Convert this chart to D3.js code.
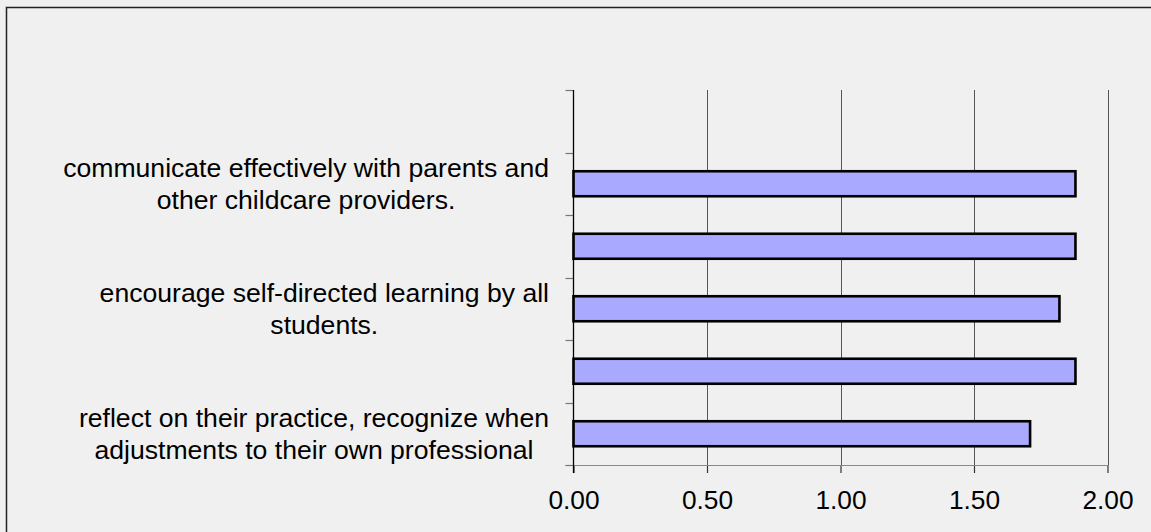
<!DOCTYPE html>
<html>
<head>
<meta charset="utf-8">
<script src="https://cdn.jsdelivr.net/npm/d3@7"></script>
<style>
html,body{margin:0;padding:0;background:#f0f0f0;}
svg{display:block;}
text{font-family:"Liberation Sans",Arial,sans-serif;fill:#000;}
</style>
</head>
<body>
<svg id="chart" width="1151" height="532"></svg>
<script>
// Categories listed top to bottom; hidden (skipped) labels are empty
const categories = ["c1", "c2", "c3", "c4", "c5", "c6"];
const categoryLabels = [
  [],
  ["communicate effectively with parents and", "other childcare providers."],
  [],
  ["encourage self-directed learning by all", "students."],
  [],
  ["reflect on their practice, recognize when", "adjustments to their own professional"]
];
const values = [null, 1.88, 1.88, 1.82, 1.88, 1.71];
const xTicks = [0, 0.5, 1.0, 1.5, 2.0];
const xTickLabels = ["0.00", "0.50", "1.00", "1.50", "2.00"];

const svg = d3.select("#chart");
const W = 1151, H = 532;

svg.append("rect").attr("x", 0).attr("y", 0).attr("width", W).attr("height", H).attr("fill", "#f0f0f0");
// outer border (only left/top edges fall inside the picture)
svg.append("path").attr("d", `M6.5,${H}V7.5H${W}`)
  .attr("fill", "none").attr("stroke", "#222").attr("stroke-width", 1.5);
svg.append("path").attr("d", `M5.5,${H}V6.5H${W}`)
  .attr("fill", "none").attr("stroke", "#bbb").attr("stroke-width", 1);

const pLeft = 573.5, pRight = 1107.5, pTop = 90, pBottom = 465;

const x = d3.scaleLinear().domain([0, 2]).range([pLeft, pRight]);
const y = d3.scaleBand().domain(categories).range([pTop, pBottom]).paddingInner(0.6).paddingOuter(0.3);
const yb = d3.scaleBand().domain(categories).range([pTop, pBottom]);

// gridlines
svg.append("g").selectAll("line").data(xTicks.slice(1)).join("line")
  .attr("x1", d => Math.round(x(d)) + 0.5).attr("x2", d => Math.round(x(d)) + 0.5)
  .attr("y1", pTop).attr("y2", pBottom)
  .attr("stroke", "#555").attr("stroke-width", 1);

// bottom axis
const xAxis = d3.axisBottom(x).tickValues(xTicks).tickSize(8).tickPadding(17)
  .tickFormat((d, i) => xTickLabels[i]);
const xa = svg.append("g").attr("transform", `translate(0,${pBottom})`).call(xAxis);
xa.select(".domain").remove();
xa.append("line").attr("x1", pLeft - 8).attr("x2", pRight).attr("y1", 0.5).attr("y2", 0.5)
  .attr("stroke", "#888").attr("stroke-width", 1.2);
xa.selectAll(".tick line").attr("stroke", "#333").attr("stroke-width", 1.2);
xa.selectAll(".tick text").attr("font-size", 26.3).attr("font-family", "Liberation Sans, Arial, sans-serif")
  .attr("dy", "0.71em").attr("fill", "#000");

// left axis ticks at band boundaries
const yTickPos = categories.map(c => yb(c)).concat([pBottom]);
svg.append("g").selectAll("line").data(yTickPos).join("line")
  .attr("x1", pLeft - 8).attr("x2", pLeft).attr("y1", d => Math.round(d) + 0.5).attr("y2", d => Math.round(d) + 0.5)
  .attr("stroke", "#777").attr("stroke-width", 1.2);

// bars
const data = categories.map((c, i) => ({c, v: values[i]})).filter(d => d.v != null);
svg.append("g").selectAll("rect").data(data).join("rect")
  .attr("x", x(0)).attr("y", d => y(d.c))
  .attr("width", d => x(d.v) - x(0)).attr("height", y.bandwidth())
  .attr("fill", "#a9a9ff").attr("stroke", "#000").attr("stroke-width", 2.6);

// y axis line
svg.append("line").attr("x1", pLeft).attr("x2", pLeft).attr("y1", pTop).attr("y2", pBottom + 8)
  .attr("stroke", "#000").attr("stroke-width", 1.3);

// category labels
const labelRight = 549, lineH = 31.7, fs = 26.6;
categories.forEach((c, i) => {
  const lines = categoryLabels[i];
  if (!lines.length) return;
  const cy = yb(c) + yb.bandwidth() / 2;
  const t = svg.append("text").attr("font-size", fs).attr("text-anchor", "middle");
  const firstBase = cy - (lines.length - 1) * lineH / 2 + 9.1;
  lines.forEach((ln, k) => {
    t.append("tspan").attr("x", 0).attr("y", firstBase + k * lineH).text(ln);
  });
  let maxW = 0;
  t.selectAll("tspan").each(function() { maxW = Math.max(maxW, this.getComputedTextLength()); });
  t.selectAll("tspan").attr("x", labelRight - maxW / 2);
});
</script>
</body>
</html>
